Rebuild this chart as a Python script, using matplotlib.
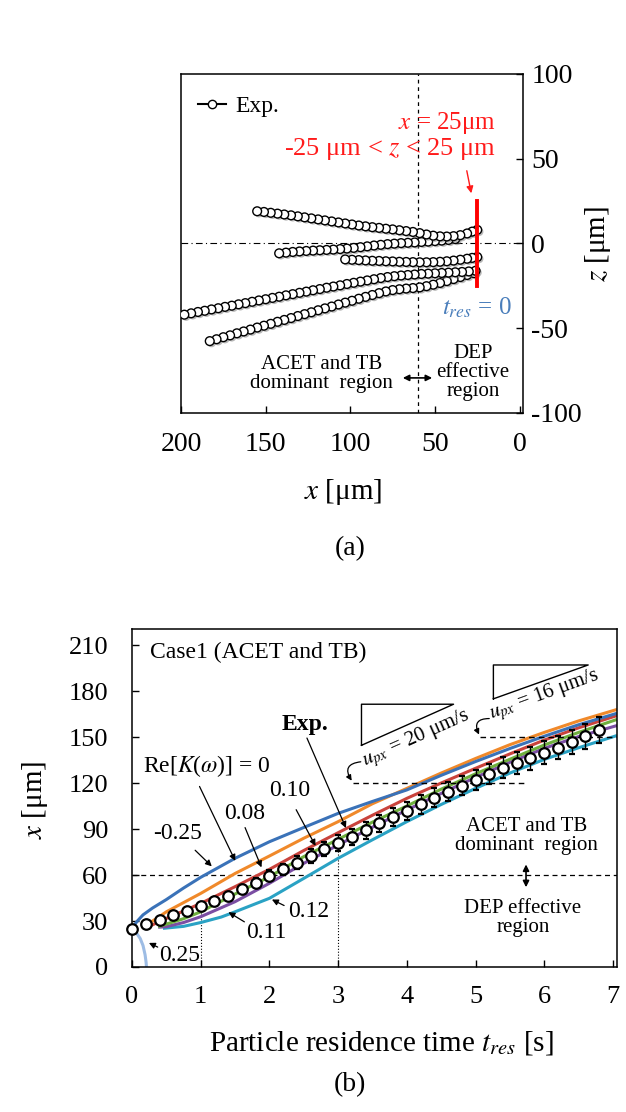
import matplotlib
matplotlib.use('Agg')
import matplotlib.pyplot as plt
import matplotlib.patheffects as pe
from matplotlib.lines import Line2D

plt.rcParams['font.family'] = ['Liberation Serif', 'DejaVu Serif']
plt.rcParams['mathtext.fontset'] = 'stix'
plt.rcParams['axes.unicode_minus'] = False

# ---- (a) particle trajectories in the x-z plane [um] ----
traj_a_x = [25, 28, 31, 35, 39, 43, 47, 51, 55, 59, 63, 67, 71, 75, 79, 83, 87, 91, 95, 99, 103,
            107, 111, 115, 119, 123, 127, 131, 135, 139, 143, 147, 151, 155]
traj_a_z = [8.0, 7.0, 5.9, 4.9, 4.3, 4.1, 4.2, 4.6, 5.3, 6.1, 6.8, 7.3, 7.8, 8.3, 8.7, 9.2, 9.6, 10.1,
            10.6, 11.2, 11.8, 12.4, 13.0, 13.6, 14.2, 14.8, 15.4, 16.0, 16.6, 17.1, 17.6, 18.1, 18.6, 19.0]

traj_b_x = [38, 42, 46, 50, 54, 58, 62, 66, 70, 74, 78, 82, 86, 90, 94, 98, 102, 106, 110, 114, 118,
            122, 126, 130, 134, 138, 142]
traj_b_z = [2.6, 2.1, 1.7, 1.4, 1.1, 0.9, 0.6, 0.4, 0.2, -0.1, -0.4, -0.8, -1.2, -1.7, -2.2, -2.6,
            -3.0, -3.3, -3.6, -3.8, -4.0, -4.2, -4.4, -4.7, -5.0, -5.4, -5.8]

traj_c_x = [25, 28, 31, 35, 39, 43, 47, 51, 55, 59, 63, 67, 71, 75, 79, 83, 87, 91, 95, 99, 103]
traj_c_z = [-8.0, -8.5, -9.0, -9.6, -10.1, -10.5, -10.8, -11.0, -11.1, -11.1, -11.0, -10.9, -10.8,
            -10.6, -10.5, -10.3, -10.2, -10.0, -9.8, -9.6, -9.4]

traj_d_x = [26, 30, 34, 38, 42, 46, 50, 54, 58, 62, 66, 70, 74, 78, 82, 86, 90, 94, 98, 102, 106,
            110, 114, 118, 122, 126, 130, 134, 138, 142, 146, 150, 154, 158, 162, 166, 170, 174,
            178, 182, 186, 190, 194, 198]
traj_d_z = [-16.1, -16.5, -16.8, -17.0, -17.2, -17.4, -17.6, -17.8, -18.0, -18.3, -18.6, -18.9,
            -19.3, -19.8, -20.4, -21.1, -21.8, -22.5, -23.2, -23.9, -24.7, -25.4, -26.1, -26.9,
            -27.6, -28.4, -29.1, -29.9, -30.6, -31.4, -32.1, -32.9, -33.6, -34.4, -35.2, -35.9,
            -36.7, -37.4, -38.2, -38.9, -39.7, -40.4, -41.2, -42.0]

traj_e_x = [27, 31, 35, 39, 43, 47, 51, 55, 59, 63, 67, 71, 75, 79, 83, 87, 91, 95, 99, 103, 107,
            111, 115, 119, 123, 127, 131, 135, 139, 143, 147, 151, 155, 159, 163, 167, 171, 175,
            179, 183]
traj_e_z = [-17.5, -18.6, -19.8, -21.0, -22.2, -23.3, -24.3, -25.2, -25.9, -26.3, -26.6, -27.0,
            -27.5, -28.3, -29.3, -30.4, -31.5, -32.6, -33.8, -34.9, -36.0, -37.2, -38.3, -39.4,
            -40.6, -41.7, -42.8, -44.0, -45.1, -46.2, -47.4, -48.5, -49.6, -50.8, -51.9, -53.0,
            -54.2, -55.3, -56.5, -57.6]

x_start = 25          # release line x = 25 um
z_half = 25           # -25 um < z < 25 um
x_boundary = 60       # ACET/TB vs DEP boundary

# ---- (b) x position vs residence time ----
exp_t = [0.0, 0.2, 0.4, 0.6, 0.8, 1.0, 1.2, 1.4, 1.6, 1.8, 2.0, 2.2, 2.4, 2.6, 2.8, 3.0, 3.2, 3.4,
         3.6, 3.8, 4.0, 4.2, 4.4, 4.6, 4.8, 5.0, 5.2, 5.4, 5.6, 5.8, 6.0, 6.2, 6.4, 6.6, 6.8]
exp_x = [24.6, 28.0, 30.7, 33.7, 36.3, 39.8, 43.0, 46.5, 50.7, 55.0, 59.6, 63.7, 68.0, 72.4, 77.0,
         81.0, 85.0, 89.3, 93.7, 97.6, 101.7, 106.0, 110.4, 114.3, 118.3, 122.0, 126.0, 130.0,
         133.0, 136.0, 139.8, 143.0, 146.7, 150.5, 154.5]
exp_err = [0.0, 0.5, 0.8, 1.0, 1.2, 1.5, 1.8, 2.2, 2.6, 3.0, 3.4, 3.8, 4.2, 4.5, 4.8, 5.1, 5.3,
           5.5, 5.7, 5.9, 6.0, 6.1, 6.2, 6.3, 6.4, 6.5, 6.6, 6.8, 7.0, 7.2, 7.4, 7.6, 7.9, 8.2, 8.5]

sim_m025_t = [0, 0.07, 0.16, 0.3, 0.5, 0.75, 1, 1.5, 2, 2.5, 3, 3.5, 4, 4.5, 5, 5.5, 6, 6.5, 7.06]
sim_m025_x = [25, 29.6, 34, 38.5, 44, 51.5, 58.5, 70.9, 81.7, 91, 100.2, 108, 115.5, 125, 134,
              142.5, 150.5, 158, 165.5]
sim_0_t = [0.19, 0.3, 0.5, 0.75, 1, 1.5, 2, 2.5, 3, 3.5, 4, 4.5, 5, 5.5, 6, 6.5, 7.06]
sim_0_x = [26.7, 30, 36, 42, 48, 61, 72.4, 84, 94.8, 106.5, 116.5, 126.5, 136, 145, 153, 160.5, 168]
sim_008_t = [0.24, 0.5, 0.75, 1, 1.5, 2, 2.5, 3, 3.5, 4, 4.5, 5, 5.5, 6, 6.5, 7.06]
sim_008_x = [26.3, 31.7, 36.5, 41.5, 52.4, 63.7, 76, 87.6, 99, 110, 120, 129.6, 139, 148, 156, 164]
sim_010_t = [0.38, 0.5, 0.75, 1, 1.5, 2, 2.5, 3, 3.5, 4, 4.5, 5, 5.5, 6, 6.5, 7.06]
sim_010_x = [26.3, 28, 31.5, 36, 47.6, 58.9, 72, 83.3, 94.5, 105, 116, 126, 135.5, 144.8, 153, 161.5]
sim_011_t = [0.38, 0.5, 0.75, 1, 1.5, 2, 2.5, 3, 3.5, 4, 4.5, 5, 5.5, 6, 6.5, 7.06]
sim_011_x = [25.9, 26.3, 29, 32.8, 42.6, 54.6, 67.6, 79.6, 91.2, 102.4, 113.2, 123.7, 133.5,
             142.6, 150.3, 157.5]
sim_012_t = [0.45, 0.75, 1, 1.3, 1.5, 2, 2.5, 3, 3.5, 4, 4.5, 5, 5.5, 6, 6.5, 7.06]
sim_012_x = [25.2, 26.5, 29.0, 32.6, 36, 44.8, 57.8, 70.9, 83, 94.8, 106, 116.5, 126.5, 135.4,
             143, 151]
sim_025_t = [0, 0.06, 0.12, 0.16, 0.19, 0.205, 0.21]
sim_025_x = [25, 22.5, 18.5, 14, 8, 3, 0]

slope_fast = 20   # um/s
slope_slow = 16   # um/s

# ======================================================================
fig = plt.figure(figsize=(6.26, 11.12), dpi=100)
ax1 = fig.add_axes([0.2891, 0.6286, 0.5463, 0.3049])
ax2 = fig.add_axes([0.2109, 0.1304, 0.7748, 0.3040])

# ---------------- (a) ----------------
shadow = [pe.SimplePatchShadow(offset=(1.3, -1.3), shadow_rgbFace='0.45', alpha=0.5), pe.Normal()]
for xs, zs in [(traj_e_x, traj_e_z), (traj_d_x, traj_d_z), (traj_c_x, traj_c_z),
               (traj_b_x, traj_b_z), (traj_a_x, traj_a_z)]:
    ax1.plot(xs, zs, 'o', ms=6.3, mfc='white', mec='black', mew=1.0,
             path_effects=shadow, zorder=3)

ax1.axhline(0, color='black', lw=0.8, ls=(0, (6, 3, 1, 3)), zorder=1)
ax1.axvline(x_boundary, color='black', lw=0.9, ls=(0, (3, 3)), zorder=1)
ax1.plot([x_start, x_start], [-z_half, z_half], color='#ff0000', lw=2.8, zorder=4)

ax1.text(14, 71, '$x$ = 25μm', color='#ff1a1a', fontsize=18, ha='right', va='center')
ax1.text(14, 55.5, '-25 μm < $z$ < 25 μm', color='#ff1a1a', fontsize=19, ha='right', va='center')
ax1.annotate('', xy=(28.2, 28), xytext=(31.5, 44.5),
             arrowprops=dict(arrowstyle='-|>', color='#ff1a1a', lw=1, mutation_scale=10))
ax1.text(25.5, -37.8, '$t_{res}$ = 0', color='#4a7ebb', fontsize=18, ha='center', va='center')

ax1.text(117, -77, 'ACET and TB\ndominant  region', fontsize=15, ha='center', va='center',
         linespacing=1.0)
ax1.text(27.5, -76, 'DEP\neffective\nregion', fontsize=15, ha='center', va='center',
         linespacing=1.0)
ax1.annotate('', xy=(50, -79.3), xytext=(70.6, -79.3),
             arrowprops=dict(arrowstyle='<|-|>', color='black', lw=1.2, mutation_scale=9))

exp_handle = Line2D([], [], color='black', lw=1.5, marker='o', ms=6, mfc='white', mec='black')
ax1.legend(handles=[exp_handle], labels=['Exp.'], loc='upper left', frameon=False, fontsize=17,
           handlelength=1.2, handletextpad=0.4, borderaxespad=0.3, bbox_to_anchor=(0.0, 0.985))

ax1.set_xlim(200, -2)
ax1.set_ylim(-100, 100)
ax1.set_xticks([200, 150, 100, 50, 0])
ax1.set_yticks([100, 50, 0, -50, -100])
ax1.yaxis.tick_right()
ax1.yaxis.set_label_position('right')
ax1.tick_params(direction='in', length=5, width=1, labelsize=20)
ax1.tick_params(axis='x', pad=14)
ax1.tick_params(axis='y', pad=6)
ax1.set_xlabel('$x$ [μm]', fontsize=21, va='center')
ax1.xaxis.set_label_coords(0.474, -0.233)
ax1.set_ylabel('$z$ [μm]', fontsize=21, va='center', rotation=90)
ax1.yaxis.set_label_coords(1.219, 0.5)
for s in ax1.spines.values():
    s.set_linewidth(1.1)

fig.text(0.559, 0.507, '(a)', fontsize=20, ha='center', va='center')

# ---------------- (b) ----------------
curves = [(sim_012_t, sim_012_x, '#2aa2c4'),
          (sim_011_t, sim_011_x, '#7b4ea3'),
          (sim_010_t, sim_010_x, '#6faf3e'),
          (sim_008_t, sim_008_x, '#c9433c'),
          (sim_0_t, sim_0_x, '#f0892a'),
          (sim_m025_t, sim_m025_x, '#3a72b8'),
          (sim_025_t, sim_025_x, '#9dbce4')]
for ts, xs, c in curves:
    ax2.plot(ts, xs, color=c, lw=2.2, solid_capstyle='butt', zorder=2)

ax2.errorbar(exp_t, exp_x, yerr=exp_err, fmt='o', ms=7.6, mfc='white', mec='black', mew=1.6,
             ecolor='black', elinewidth=1, capsize=2.5, capthick=1, zorder=4, clip_on=False)

ax2.axhline(60, color='black', lw=0.9, ls=(0, (4, 3)), zorder=1)
ax2.plot([1, 1], [0, exp_x[5]], color='black', lw=0.8, ls=':', zorder=1)
ax2.plot([3, 3], [0, exp_x[15]], color='black', lw=0.8, ls=':', zorder=1)

# slope triangles
t0, t1 = 3.34, 4.68
top = 171.4
ax2.plot([t0, t0, t1, t0], [top - slope_fast * (t1 - t0), top, top, top - slope_fast * (t1 - t0)],
         color='black', lw=1)
t2, t3 = 5.26, 6.64
top2 = 197
ax2.plot([t2, t2, t3, t2], [top2 - slope_slow * (t3 - t2), top2, top2, top2 - slope_slow * (t3 - t2)],
         color='black', lw=1)
ax2.text(4.13, 149.0, '$u_{px}$ = 20 μm/s', fontsize=15, rotation=24, ha='center', va='center')
ax2.text(6.0, 177.5, '$u_{px}$ = 16 μm/s', fontsize=15, rotation=20, ha='center', va='center')
ax2.plot([3.22, 5.75], [120, 120], color='black', lw=1, ls=(0, (4, 3)))
ax2.plot([5.07, 7.06], [150, 150], color='black', lw=1, ls=(0, (4, 3)))
ax2.annotate('', xy=(3.22, 120), xytext=(3.37, 134),
             arrowprops=dict(arrowstyle='-|>', color='black', lw=0.9, mutation_scale=8,
                             connectionstyle='arc3,rad=0.9'))
ax2.annotate('', xy=(5.07, 150), xytext=(5.24, 162),
             arrowprops=dict(arrowstyle='-|>', color='black', lw=0.9, mutation_scale=8,
                             connectionstyle='arc3,rad=0.9'))

ax2.text(0.26, 205, 'Case1 (ACET and TB)', fontsize=17, ha='left', va='center')

arrow_kw = dict(arrowstyle='-|>', color='black', lw=0.9, mutation_scale=9)
labels = [('Exp.', (2.52, 158), (2.53, 151), (3.13, 89), 'bold'),
          ('Re[$K$($\\omega$)] = 0', (1.09, 131), (0.965, 119.4), (1.52, 67.6), 'normal'),
          ('0.10', (2.30, 115), (2.37, 104.2), (2.69, 77.4), 'normal'),
          ('0.08', (1.645, 100), (1.63, 92.6), (1.90, 63.3), 'normal'),
          ('-0.25', (0.66, 87), (0.89, 77.4), (1.19, 64.4), 'normal'),
          ('0.12', (2.57, 36), (2.25, 39.3), (2.0, 44.8), 'normal'),
          ('0.11', (1.95, 22.5), (1.67, 28.5), (1.37, 36.7), 'normal'),
          ('0.25', (0.70, 7.8), (0.41, 12.2), (0.21, 16.5), 'normal')]
for txt, tpos, tail, tip, w in labels:
    ax2.text(tpos[0], tpos[1], txt, fontsize=17, ha='center', va='center', fontweight=w)
    ax2.annotate('', xy=tip, xytext=tail, arrowprops=arrow_kw)

ax2.text(5.745, 85.5, 'ACET and TB\ndominant  region', fontsize=15, ha='center', va='center',
         linespacing=1.0)
ax2.text(5.69, 31.7, 'DEP effective\nregion', fontsize=15, ha='center', va='center',
         linespacing=1.0)
ax2.annotate('', xy=(5.735, 50.2), xytext=(5.735, 68.7),
             arrowprops=dict(arrowstyle='<|-|>', color='black', lw=1.2, mutation_scale=9))

ax2.set_xlim(0, 7.06)
ax2.set_ylim(0, 220.5)
ax2.set_xticks(range(0, 8))
ax2.set_yticks(range(0, 211, 30))
ax2.tick_params(direction='in', length=5, width=1, labelsize=19)
ax2.tick_params(axis='x', pad=14)
ax2.tick_params(axis='y', pad=17)
ax2.set_xlabel('Particle residence time $t_{res}$ [s]', fontsize=21, va='center')
ax2.xaxis.set_label_coords(0.515, -0.225)
ax2.set_ylabel('$x$ [μm]', fontsize=21, va='center')
ax2.yaxis.set_label_coords(-0.2, 0.494)
for s in ax2.spines.values():
    s.set_linewidth(1.1)

fig.text(0.559, 0.0243, '(b)', fontsize=20, ha='center', va='center')

fig.savefig('out.png', dpi=100)
